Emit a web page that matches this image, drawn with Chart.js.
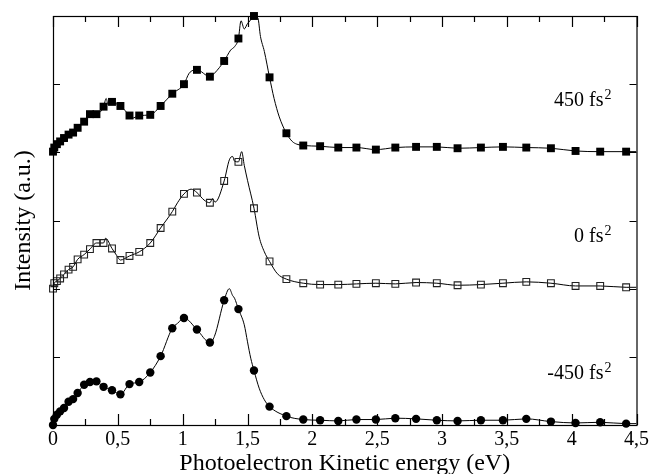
<!DOCTYPE html>
<html>
<head>
<meta charset="utf-8">
<script src="https://cdn.jsdelivr.net/npm/chart.js@4.4.0/dist/chart.umd.min.js"></script>
<style>
  body { margin: 0; background: #fff; }
</style>
</head>
<body>
<canvas id="graph" width="652" height="474"></canvas>
<script>
// marker positions (eV), shared by the three spectra
var energy = [0, 0.01, 0.03, 0.055, 0.085, 0.12, 0.155, 0.19, 0.24, 0.285, 0.335, 0.39, 0.455, 0.52, 0.59, 0.665,
              0.75, 0.83, 0.92, 1.01, 1.11, 1.21, 1.32, 1.43, 1.55, 1.67, 1.80, 1.93, 2.06, 2.20, 2.34, 2.49,
              2.64, 2.80, 2.96, 3.12, 3.30, 3.47, 3.65, 3.84, 4.03, 4.22, 4.42];

// intensities at the markers (already offset as in the figure)
var int450 = [4.01, 4.07, 4.12, 4.16, 4.21, 4.26, 4.29, 4.36, 4.45, 4.56, 4.56, 4.67, 4.74, 4.68, 4.54, 4.54,
              4.55, 4.68, 4.86, 5.00, 5.21, 5.11, 5.34, 5.67, 6.00, 5.10, 4.28, 4.10, 4.09, 4.07, 4.07, 4.04,
              4.07, 4.08, 4.08, 4.06, 4.07, 4.08, 4.07, 4.06, 4.02, 4.01, 4.01];
var int0 = [2.00, 2.08, 2.11, 2.15, 2.21, 2.28, 2.32, 2.43, 2.50, 2.58, 2.67, 2.67, 2.59, 2.42, 2.48, 2.54,
            2.67, 2.89, 3.13, 3.39, 3.41, 3.26, 3.58, 3.86, 3.18, 2.40, 2.14, 2.08, 2.06, 2.06, 2.07, 2.08,
            2.07, 2.09, 2.08, 2.05, 2.06, 2.08, 2.10, 2.08, 2.04, 2.04, 2.02];
var intM450 = [0.00, 0.09, 0.15, 0.20, 0.25, 0.34, 0.38, 0.47, 0.59, 0.63, 0.64, 0.56, 0.51, 0.45, 0.60, 0.63,
               0.77, 1.01, 1.42, 1.57, 1.40, 1.21, 1.83, 1.70, 0.80, 0.27, 0.13, 0.08, 0.07, 0.06, 0.08, 0.08,
               0.10, 0.09, 0.07, 0.06, 0.07, 0.07, 0.09, 0.05, 0.03, 0.04, 0.02];

// extra points of the continuous curves between markers
var line450X = [0.41, 0.425, 0.435, 0.61, 1.05, 1.245, 1.37, 1.40, 1.45, 1.475, 1.50, 1.52, 1.58, 1.60, 1.63, 1.705, 1.745, 1.845, 1.88, 4.5];
var line450Y = [4.79, 4.70, 4.77, 4.50, 5.16, 5.16, 5.50, 5.55, 5.93, 5.81, 5.89, 5.93, 5.97, 5.70, 5.48, 4.79, 4.52, 4.16, 4.12, 4.01];
var line0X = [0.405, 0.49, 0.96, 1.065, 1.165, 1.23, 1.25, 1.36, 1.385, 1.40, 1.455, 1.475, 1.50, 1.59, 1.63, 1.73, 4.5];
var line0Y = [2.74, 2.49, 3.26, 3.46, 3.30, 3.32, 3.27, 3.89, 3.94, 3.87, 4.01, 3.81, 3.59, 2.76, 2.54, 2.22, 2.02];
var lineM450X = [0.96, 1.245, 1.36, 1.385, 1.40, 1.475, 1.50, 1.525, 1.59, 1.63, 4.5];
var lineM450Y = [1.49, 1.30, 2.00, 1.90, 1.86, 1.47, 1.22, 0.98, 0.54, 0.37, 0.02];

var curveNames = ['450 fs', '0 fs', '-450 fs'];

function points(xs, ys) {
  var out = [];
  for (var i = 0; i < xs.length; i++) out.push({x: xs[i], y: ys[i]});
  return out;
}
function curve(xs, ys, ex, ey) {
  return points(xs, ys).concat(points(ex, ey)).sort(function(a, b) { return a.x - b.x; });
}

var serif = '"Liberation Serif", "Times New Roman", serif';

// frame, inward ticks and curve labels
var framePlugin = {
  id: 'frame',
  afterDatasetsDraw: function(chart) {
    var ctx = chart.ctx, a = chart.chartArea;
    var xs = chart.scales.x, ys = chart.scales.y;
    ctx.save();
    ctx.strokeStyle = '#000';
    ctx.lineWidth = 1.2;
    ctx.strokeRect(a.left + 0.5, a.top + 0.5, a.right - a.left, a.bottom - a.top);
    ctx.beginPath();
    for (var v = 0; v <= 4.5001; v += 0.25) {
      var px = Math.round(xs.getPixelForValue(v)) + 0.5;
      var len = (Math.abs(v * 2 - Math.round(v * 2)) < 1e-6) ? 11 : 6;
      ctx.moveTo(px, a.bottom); ctx.lineTo(px, a.bottom - len);
      ctx.moveTo(px, a.top); ctx.lineTo(px, a.top + len);
    }
    for (var k = 1; k < 6; k++) {
      var py = Math.round(ys.getPixelForValue(k)) + 0.5;
      ctx.moveTo(a.left, py); ctx.lineTo(a.left + 7, py);
      ctx.moveTo(a.right, py); ctx.lineTo(a.right - 7, py);
    }
    ctx.stroke();

    var labelY = [4.68, 2.68, 0.67];
    ctx.fillStyle = '#000';
    ctx.textBaseline = 'alphabetic';
    for (var j = 0; j < curveNames.length; j++) {
      var rx = xs.getPixelForValue(4.245);
      var by = ys.getPixelForValue(labelY[j]);
      ctx.font = '20px ' + serif;
      ctx.textAlign = 'right';
      ctx.fillText(curveNames[j], rx, by);
      ctx.font = '14px ' + serif;
      ctx.textAlign = 'left';
      ctx.fillText('2', rx + 1, by - 7);
    }
    ctx.restore();
  }
};

window.onload = function() {
  var ctx = document.getElementById('graph').getContext('2d');
  new Chart(ctx, {
    type: 'line',
    data: {
      datasets: [
        { label: '450 fs2 markers', data: points(energy, int450), showLine: false, pointStyle: 'rect',
          pointRadius: 5.6, backgroundColor: '#000', borderColor: '#000', borderWidth: 0, clip: false, order: 0 },
        { label: '0 fs2 markers', data: points(energy, int0), showLine: false, pointStyle: 'rect',
          pointRadius: 4.8, backgroundColor: 'rgba(0,0,0,0)', borderColor: '#222', borderWidth: 1.1, clip: false, order: 0 },
        { label: '-450 fs2 markers', data: points(energy, intM450), showLine: false, pointStyle: 'circle',
          pointRadius: 4.2, backgroundColor: '#000', borderColor: '#000', borderWidth: 0, clip: false, order: 0 },
        { label: '450 fs2', data: curve(energy, int450, line450X, line450Y), borderColor: '#000', borderWidth: 1,
          pointRadius: 0, cubicInterpolationMode: 'monotone', fill: false, order: 1 },
        { label: '0 fs2', data: curve(energy, int0, line0X, line0Y), borderColor: '#000', borderWidth: 1,
          pointRadius: 0, cubicInterpolationMode: 'monotone', fill: false, order: 1 },
        { label: '-450 fs2', data: curve(energy, intM450, lineM450X, lineM450Y), borderColor: '#000', borderWidth: 1,
          pointRadius: 0, cubicInterpolationMode: 'monotone', fill: false, order: 1 }
      ]
    },
    options: {
      responsive: false,
      animation: false,
      events: [],
      layout: { padding: { left: 0, top: 16, right: 13, bottom: 0 } },
      plugins: { legend: { display: false }, tooltip: { enabled: false } },
      scales: {
        x: {
          type: 'linear', min: 0, max: 4.5,
          grid: { display: false, drawTicks: false }, border: { display: false },
          ticks: {
            stepSize: 0.5, padding: 3, color: '#000',
            font: { family: serif, size: 20 },
            callback: function(v) { return String(v).replace('.', ','); }
          },
          title: { display: true, text: 'Photoelectron Kinetic energy (eV)', color: '#000',
                   font: { family: serif, size: 24, lineHeight: 1 }, padding: { top: 0, bottom: -2 } },
          afterFit: function(s) { s.height = 49; }
        },
        y: {
          type: 'linear', min: 0, max: 6,
          grid: { display: false, drawTicks: false }, border: { display: false },
          ticks: { display: false },
          title: { display: true, text: 'Intensity (a.u.)', color: '#000',
                   font: { family: serif, size: 24, lineHeight: 1 }, padding: { top: 12, bottom: 0 } },
          afterFit: function(s) { s.width = 53; }
        }
      }
    },
    plugins: [framePlugin]
  });
};
</script>
</body>
</html>
